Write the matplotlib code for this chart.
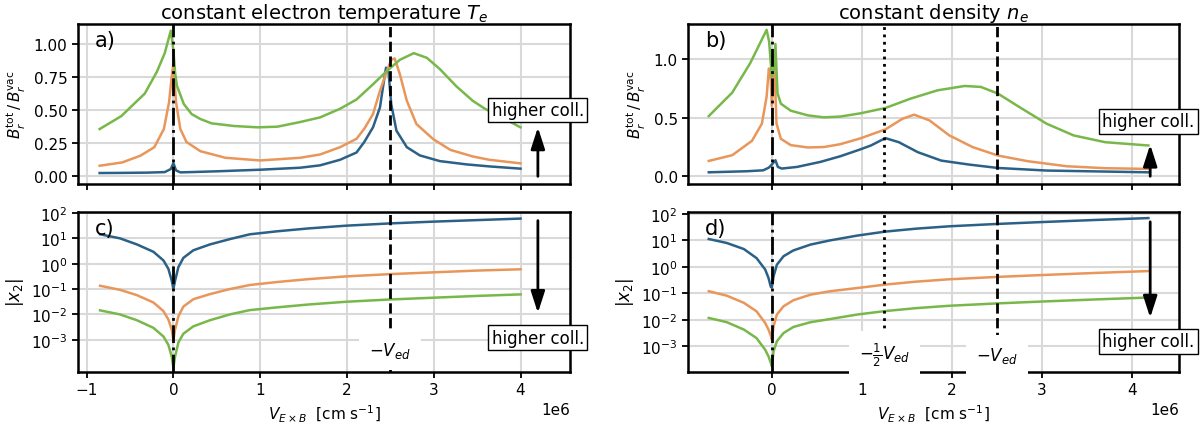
import matplotlib.pyplot as plt
import numpy as np

# x values are in units of 1e6 cm/s
# --- a) constant Te : B_r^tot / B_r^vac
xa_blue = [-0.85, -0.6, -0.3, -0.1, -0.03, 0.0, 0.03, 0.08, 0.2, 0.5, 1.0, 1.46, 1.69, 1.92, 2.11, 2.2, 2.3,
           2.38, 2.42, 2.45, 2.48, 2.51, 2.57, 2.69, 2.84, 3.07, 3.38, 3.64, 4.0]
ya_blue = [0.025, 0.026, 0.028, 0.032, 0.055, 0.1, 0.045, 0.03, 0.032, 0.038, 0.05, 0.065, 0.083, 0.125, 0.18,
           0.26, 0.37, 0.52, 0.695, 0.82, 0.78, 0.545, 0.345, 0.22, 0.158, 0.115, 0.09, 0.075, 0.058]
xa_orange = [-0.85, -0.59, -0.38, -0.22, -0.11, -0.05, -0.02, 0.0, 0.01, 0.03, 0.08, 0.15, 0.31, 0.6, 1.0, 1.46,
             1.69, 1.92, 2.11, 2.2, 2.3, 2.38, 2.46, 2.51, 2.55, 2.61, 2.69, 2.8, 2.99, 3.19, 3.45, 3.64, 4.0]
ya_orange = [0.08, 0.105, 0.156, 0.22, 0.357, 0.56, 0.75, 0.85, 0.75, 0.56, 0.357, 0.26, 0.19, 0.14, 0.12, 0.14,
             0.165, 0.22, 0.283, 0.36, 0.47, 0.645, 0.795, 0.88, 0.89, 0.77, 0.57, 0.395, 0.283, 0.2, 0.15, 0.125,
             0.098]
xa_green = [-0.85, -0.6, -0.33, -0.19, -0.1, -0.03, 0.0, 0.02, 0.04, 0.12, 0.21, 0.31, 0.44, 0.7, 0.97, 1.2, 1.46,
            1.69, 1.92, 2.11, 2.3, 2.46, 2.61, 2.77, 2.92, 3.07, 3.26, 3.45, 3.59, 3.8, 4.0]
ya_green = [0.357, 0.455, 0.625, 0.79, 0.93, 1.1, 0.95, 0.78, 0.685, 0.546, 0.47, 0.433, 0.40, 0.38, 0.37, 0.375,
            0.41, 0.445, 0.51, 0.58, 0.695, 0.795, 0.88, 0.93, 0.895, 0.81, 0.68, 0.57, 0.51, 0.44, 0.37]

# --- b) constant ne : B_r^tot / B_r^vac
xb_blue = [-0.70, -0.28, -0.096, -0.033, 0.0, 0.04, 0.067, 0.11, 0.28, 0.54, 0.76, 0.98, 1.1, 1.26, 1.41, 1.62,
           1.88, 2.19, 2.51, 3.05, 4.18]
yb_blue = [0.034, 0.043, 0.051, 0.074, 0.1, 0.137, 0.08, 0.066, 0.08, 0.123, 0.171, 0.229, 0.263, 0.326, 0.291,
           0.206, 0.134, 0.10, 0.071, 0.049, 0.034]
xb_orange = [-0.70, -0.44, -0.22, -0.11, -0.058, -0.033, -0.015, 0.0, 0.03, 0.052, 0.1, 0.21, 0.4, 0.58, 0.76,
             0.98, 1.26, 1.45, 1.58, 1.75, 1.97, 2.23, 2.51, 2.84, 3.27, 3.7, 4.18]
yb_orange = [0.131, 0.18, 0.303, 0.45, 0.68, 0.92, 0.88, 0.6, 0.92, 0.45, 0.32, 0.266, 0.246, 0.25, 0.274, 0.323,
             0.40, 0.491, 0.526, 0.477, 0.349, 0.249, 0.177, 0.129, 0.086, 0.069, 0.063]
xb_green = [-0.70, -0.44, -0.24, -0.058, -0.03, 0.0, 0.02, 0.04, 0.063, 0.1, 0.21, 0.4, 0.58, 0.76, 0.98, 1.26,
            1.54, 1.84, 2.14, 2.32, 2.51, 2.75, 3.05, 3.35, 3.7, 4.18]
yb_green = [0.514, 0.714, 0.966, 1.25, 1.15, 0.85, 0.9, 1.13, 0.71, 0.62, 0.56, 0.52, 0.503, 0.51, 0.537, 0.583,
            0.663, 0.734, 0.771, 0.763, 0.706, 0.59, 0.449, 0.349, 0.291, 0.263]

# --- c) constant Te : log10 |x2|
xc = [-0.845, -0.615, -0.42, -0.23, -0.115, -0.058, -0.019, 0.0, 0.019, 0.058, 0.115, 0.23, 0.42, 0.65, 0.88,
      1.2, 1.55, 1.99, 2.5, 3.0, 3.5, 4.0]
c_blue_log = [1.16, 1.0, 0.76, 0.47, 0.13, -0.2, -0.67, -1.0, -0.67, -0.13, 0.23, 0.53, 0.76, 0.97, 1.16, 1.28,
              1.39, 1.5, 1.59, 1.66, 1.72, 1.78]
c_orange_log = [-0.87, -1.03, -1.24, -1.53, -1.87, -2.2, -2.6, -3.0, -2.6, -2.07, -1.69, -1.4, -1.2, -1.0, -0.84,
                -0.72, -0.61, -0.5, -0.41, -0.34, -0.27, -0.22]
c_green_log = [-1.84, -2.0, -2.23, -2.53, -2.87, -3.2, -3.67, -4.1, -3.67, -3.1, -2.76, -2.47, -2.23, -2.0, -1.83,
               -1.72, -1.61, -1.5, -1.41, -1.34, -1.27, -1.21]

# --- d) constant ne : log10 |x2|
xd = [-0.70, -0.50, -0.31, -0.17, -0.074, -0.037, -0.011, 0.0, 0.019, 0.056, 0.13, 0.24, 0.43, 0.65, 0.95, 1.26,
      1.6, 1.97, 2.51, 3.0, 3.6, 4.18]
d_blue_log = [1.05, 0.9, 0.67, 0.33, -0.1, -0.42, -0.76, -0.78, -0.36, 0.08, 0.4, 0.62, 0.84, 1.0, 1.18, 1.33,
              1.44, 1.53, 1.62, 1.69, 1.77, 1.84]
d_orange_log = [-0.92, -1.09, -1.36, -1.68, -2.12, -2.37, -2.6, -2.75, -2.25, -1.8, -1.49, -1.26, -1.05, -0.92,
                -0.8, -0.67, -0.56, -0.47, -0.38, -0.31, -0.23, -0.16]
d_green_log = [-1.93, -2.09, -2.37, -2.69, -3.13, -3.38, -3.63, -3.75, -3.19, -2.81, -2.5, -2.27, -2.09, -1.97,
               -1.8, -1.67, -1.56, -1.47, -1.38, -1.31, -1.23, -1.16]

c_blue = '#2b6087'
c_orange = '#e9965a'
c_green = '#78b84a'
lw = 1.8
s = 1e6


def xs(v):
    return np.array(v) * s


def lin(v):
    return np.power(10.0, v)


fig = plt.figure(figsize=(12.01, 4.27), dpi=100)
ax_a = fig.add_axes([0.0649, 0.5667, 0.4097, 0.3747])
ax_c = fig.add_axes([0.0649, 0.1265, 0.4097, 0.3747], sharex=ax_a)
ax_b = fig.add_axes([0.5729, 0.5667, 0.4088, 0.3747])
ax_d = fig.add_axes([0.5729, 0.1265, 0.4088, 0.3747], sharex=ax_b)

ax_a.plot(xs(xa_blue), ya_blue, color=c_blue, lw=lw)
ax_a.plot(xs(xa_orange), ya_orange, color=c_orange, lw=lw)
ax_a.plot(xs(xa_green), ya_green, color=c_green, lw=lw)

ax_b.plot(xs(xb_blue), yb_blue, color=c_blue, lw=lw)
ax_b.plot(xs(xb_orange), yb_orange, color=c_orange, lw=lw)
ax_b.plot(xs(xb_green), yb_green, color=c_green, lw=lw)

ax_c.semilogy(xs(xc), lin(c_blue_log), color=c_blue, lw=lw)
ax_c.semilogy(xs(xc), lin(c_orange_log), color=c_orange, lw=lw)
ax_c.semilogy(xs(xc), lin(c_green_log), color=c_green, lw=lw)

ax_d.semilogy(xs(xd), lin(d_blue_log), color=c_blue, lw=lw)
ax_d.semilogy(xs(xd), lin(d_orange_log), color=c_orange, lw=lw)
ax_d.semilogy(xs(xd), lin(d_green_log), color=c_green, lw=lw)

for ax in [ax_a, ax_b, ax_c, ax_d]:
    ax.grid(True, color='#d9d9d9', lw=1.5)
    ax.set_axisbelow(True)
    ax.tick_params(labelsize=11, width=1.3, length=4)
    for sp in ax.spines.values():
        sp.set_linewidth(1.8)
    ax.axvline(0, color='k', ls='-.', lw=2)
    ax.axvline(2.5e6, color='k', ls='--', lw=2)

for ax in [ax_b, ax_d]:
    ax.axvline(1.25e6, color='k', ls=':', lw=2)

ax_a.set_xlim(-1.10e6, 4.57e6)
ax_b.set_xlim(-0.93e6, 4.52e6)
ax_a.set_ylim(-0.058, 1.15)
ax_b.set_ylim(-0.066, 1.30)
ax_a.set_yticks([0, 0.25, 0.5, 0.75, 1.0])
ax_b.set_yticks([0, 0.5, 1.0])
ax_c.set_ylim(10**-4.27, 10**2.04)
ax_d.set_ylim(10**-3.97, 10**2.07)
for ax in [ax_c, ax_d]:
    ax.set_yticks([1e-3, 1e-2, 1e-1, 1e0, 1e1, 1e2])
    ax.minorticks_off()
    ax.set_xlabel(r'$V_{E\times B}$  [cm s$^{-1}$]', fontsize=11)
    ax.xaxis.get_offset_text().set_fontsize(11)
    ax.set_ylabel(r'$|x_2|$', fontsize=12)
for ax in [ax_a, ax_b]:
    ax.tick_params(labelbottom=False)
    ax.set_ylabel(r'$B_r^{\rm tot}\,/\,B_r^{\rm vac}$', fontsize=11)

ax_a.set_title(r'constant electron temperature $T_e$', fontsize=14, pad=4)
ax_b.set_title(r'constant density $n_e$', fontsize=14, pad=4)

for ax, lab in [(ax_a, 'a)'), (ax_b, 'b)'), (ax_c, 'c)'), (ax_d, 'd)')]:
    ax.text(0.035, 0.96, lab, transform=ax.transAxes, fontsize=15, va='top')

box = dict(boxstyle='square,pad=0.2', fc='white', ec='k', lw=1.0)
wbox = dict(boxstyle='square,pad=0.6', fc='white', ec='none')
arrow = dict(arrowstyle='-|>,head_width=0.42,head_length=1.3', color='k', lw=2, shrinkA=0, shrinkB=0)

# "higher coll." arrows and boxes
ax_a.annotate('', xy=(4.2e6, 0.37), xytext=(4.2e6, 0.0), arrowprops=arrow)
ax_a.text(4.2e6, 0.5, 'higher coll.', ha='center', va='center', fontsize=12, bbox=box, clip_on=False)
ax_b.annotate('', xy=(4.2e6, 0.27), xytext=(4.2e6, 0.0), arrowprops=arrow)
ax_b.text(4.18e6, 0.47, 'higher coll.', ha='center', va='center', fontsize=12, bbox=box, clip_on=False)
ax_c.annotate('', xy=(4.2e6, 10**-1.94), xytext=(4.2e6, 10**1.7), arrowprops=arrow)
ax_c.text(4.2e6, 10**-2.92, 'higher coll.', ha='center', va='center', fontsize=12, bbox=box, clip_on=False)
ax_d.annotate('', xy=(4.2e6, 10**-1.92), xytext=(4.2e6, 10**1.7), arrowprops=arrow)
ax_d.text(4.18e6, 10**-2.81, 'higher coll.', ha='center', va='center', fontsize=12, bbox=box, clip_on=False)

ax_c.text(2.5e6, 10**-3.4, r'$-V_{ed}$', ha='center', va='center', fontsize=12, bbox=wbox)
ax_d.text(2.5e6, 10**-3.32, r'$-V_{ed}$', ha='center', va='center', fontsize=12, bbox=wbox)
ax_d.text(1.25e6, 10**-3.32, r'$-\frac{1}{2}V_{ed}$', ha='center', va='center', fontsize=12, bbox=wbox)

fig.savefig('out.png', dpi=100)
